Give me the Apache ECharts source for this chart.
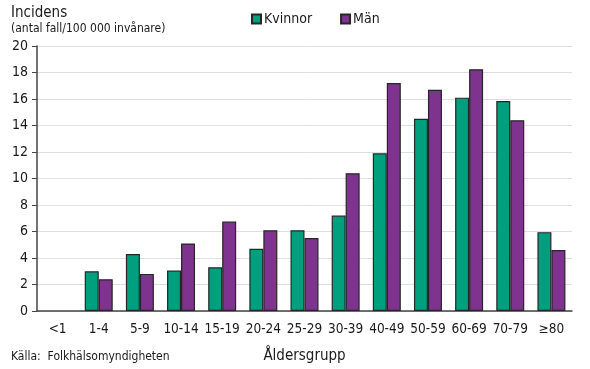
<!DOCTYPE html>
<html><head><meta charset="utf-8">
<script src="https://cdn.jsdelivr.net/npm/echarts@6/dist/echarts.min.js"></script>
<style>html,body{margin:0;padding:0;background:#fff}#c{width:590px;height:369px}</style>
</head><body><div id="c"></div>
<script>
const categories = ['<1','1-4','5-9','10-14','15-19','20-24','25-29','30-39','40-49','50-59','60-69','70-79','≥80'];
const kvinnor = [0, 3.0, 4.3, 3.05, 3.3, 4.7, 6.1, 7.2, 11.9, 14.5, 16.1, 15.85, 5.95];
const man = [0, 2.4, 2.8, 5.1, 6.75, 6.1, 5.5, 10.4, 17.2, 16.7, 18.25, 14.4, 4.6];
const yTicks = {min: 0, max: 20, interval: 2};
const font = '"DejaVu Sans Condensed", "DejaVu Sans", sans-serif';
const toData = arr => arr.map(v => v === 0 ? {value: v, itemStyle: {borderWidth: 0}} : v);
const chart = echarts.init(document.getElementById('c'), null, {renderer: 'canvas'});
chart.setOption({
  animation: false,
  textStyle: {fontFamily: font},
  grid: {left: 37, right: 18, top: 46, bottom: 58, containLabel: false},
  title: [
    {text: 'Incidens', left: 6, top: 1, textStyle: {fontFamily: font, fontSize: 15, fontWeight: 'normal', color: '#1a1a1a'}},
    {text: '(antal fall/100 000 invånare)', left: 6, top: 18, textStyle: {fontFamily: font, fontSize: 12, fontWeight: 'normal', color: '#1a1a1a'}},
    {text: 'Källa:  Folkhälsomyndigheten', left: 6, top: 346, textStyle: {fontFamily: font, fontSize: 12, fontWeight: 'normal', color: '#1a1a1a'}}
  ],
  legend: {
    left: 246, top: 7, itemWidth: 9, itemHeight: 9, itemGap: 28,
    icon: 'rect',
    textStyle: {fontFamily: font, fontSize: 14, color: '#1a1a1a', padding: [0,0,0,-2]},
    data: ['Kvinnor', 'Män']
  },
  xAxis: {
    type: 'category', data: categories,
    name: 'Åldersgrupp', nameLocation: 'middle', nameGap: 38,
    nameTextStyle: {fontFamily: font, fontSize: 15, color: '#1a1a1a'},
    axisLine: {lineStyle: {color: '#444', width: 1.5}},
    axisTick: {show: false},
    axisLabel: {fontFamily: font, fontSize: 13.5, color: '#1a1a1a', margin: 11, interval: 0}
  },
  yAxis: {
    type: 'value', min: yTicks.min, max: yTicks.max, interval: yTicks.interval,
    axisLine: {show: true, lineStyle: {color: '#444', width: 1.5}},
    axisTick: {show: true, length: 5, lineStyle: {color: '#444'}},
    axisLabel: {fontFamily: font, fontSize: 14, color: '#1a1a1a', margin: 9},
    splitLine: {lineStyle: {color: '#dedede', width: 1}}
  },
  series: [
    {name: 'Kvinnor', type: 'bar', data: toData(kvinnor), barGap: '0%', barCategoryGap: '32%',
     itemStyle: {color: '#00a07f', borderColor: '#262626', borderWidth: 1.2}},
    {name: 'Män', type: 'bar', data: toData(man), barGap: '0%', barCategoryGap: '32%',
     itemStyle: {color: '#7e338f', borderColor: '#262626', borderWidth: 1.2}}
  ]
});
</script></body></html>
